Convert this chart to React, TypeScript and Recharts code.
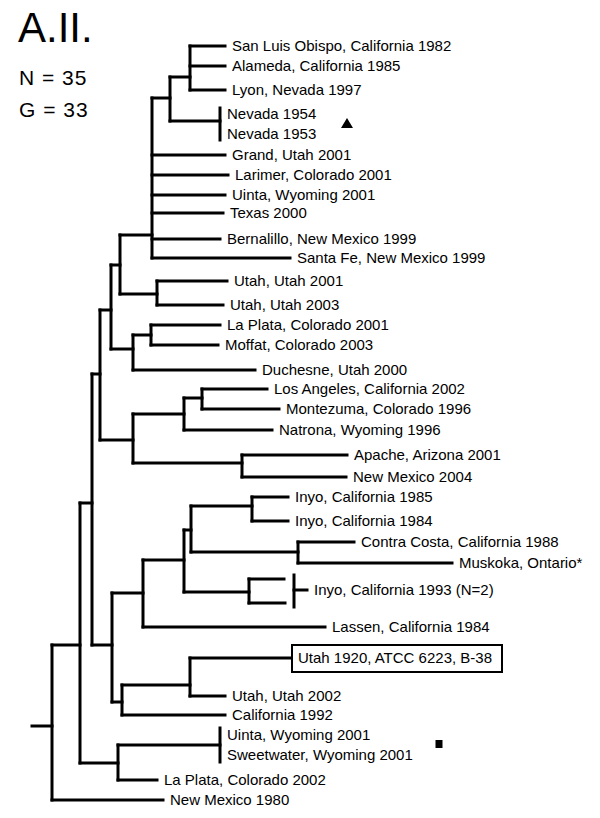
import React from 'react';
import { ScatterChart, Scatter, XAxis, YAxis, ReferenceLine } from 'recharts';

const W = 600;
const H = 818;

// ---- Tree: internal nodes (depth = genetic distance axis, y = row axis) ----
const nodeIds = ['root', 'n80', 'n92', 'n100', 'n111', 'n120', 'poly', 'n170', 'n190', 'nev', 'nUtah', 'n133a', 'n151', 'n133b', 'n184a', 'n202', 'n242', 'n112', 'n143', 'n184b', 'n191', 'n252', 'n298', 'n249', 'n122', 'n190b', 'n118', 'uw', 'i93'];
const nodeDepth = [52, 80, 92, 100, 111, 120, 152, 170, 190, 220, 157, 133, 151, 133, 184, 202, 242, 112, 143, 184, 191, 252, 298, 249, 122, 190, 118, 220, 294];
const nodeY = [726, 645, 503, 374, 310, 265, 235, 98, 77, 121, 294, 349, 335, 440, 414, 398, 463, 645, 593, 560, 530, 506, 552, 592, 702, 685, 763, 745, 590];
const nodeParent = ['', 'root', 'n80', 'n92', 'n100', 'n111', 'n120', 'poly', 'n170', 'n170', 'n120', 'n111', 'n133a', 'n100', 'n133b', 'n184a', 'n133b', 'n92', 'n112', 'n143', 'n184b', 'n191', 'n191', 'n184b', 'n112', 'n122', 'n80', 'n118', ''];
const rootStart = 32;

// collapsed groups drawn as a vertical bar
const barNodes = ['nev', 'uw', 'i93'];
const barSpans = [[108, 140], [728, 762], [575, 607]];

// ---- Leaves ----
const leafNames = [
  'San Luis Obispo, California 1982', 'Alameda, California 1985', 'Lyon, Nevada 1997',
  'Nevada 1954', 'Nevada 1953',
  'Grand, Utah 2001', 'Larimer, Colorado 2001', 'Uinta, Wyoming 2001', 'Texas 2000', 'Bernalillo, New Mexico 1999', 'Santa Fe, New Mexico 1999',
  'Utah, Utah 2001', 'Utah, Utah 2003',
  'La Plata, Colorado 2001', 'Moffat, Colorado 2003', 'Duchesne, Utah 2000',
  'Los Angeles, California 2002', 'Montezuma, Colorado 1996', 'Natrona, Wyoming 1996',
  'Apache, Arizona 2001', 'New Mexico 2004',
  'Inyo, California 1985', 'Inyo, California 1984', 'Contra Costa, California 1988', 'Muskoka, Ontario*',
  '', '', 'Inyo, California 1993 (N=2)',
  'Lassen, California 1984',
  'Utah 1920, ATCC 6223, B-38', 'Utah, Utah 2002', 'California 1992',
  'Uinta, Wyoming 2001', 'Sweetwater, Wyoming 2001', 'La Plata, Colorado 2002',
  'New Mexico 1980',
];
const leafDepth = [225, 225, 225, 220, 220, 225, 228, 225, 223, 220, 290, 227, 223, 220, 218, 255, 267, 279, 272, 347, 346, 288, 288, 354, 452, 284, 285, 307, 325, 292, 225, 225, 220, 220, 157, 163];
const leafY = [46, 66, 90, 114, 134, 155, 175, 195, 213, 239, 258, 281, 305, 325, 345, 370, 389, 409, 430, 455, 477, 497, 521, 542, 563, 579, 603, 590, 627, 658, 696, 715, 735, 755, 780, 800];
const leafParent = ['n190', 'n190', 'n190', 'nev', 'nev', 'poly', 'poly', 'poly', 'poly', 'poly', 'poly', 'nUtah', 'nUtah', 'n151', 'n151', 'n133a', 'n202', 'n202', 'n184a', 'n242', 'n242', 'n252', 'n252', 'n298', 'n298', 'n249', 'n249', 'i93', 'n143', 'n190b', 'n190b', 'n122', 'uw', 'uw', 'n118', 'root'];
const boxedLeaves = ['Utah 1920, ATCC 6223, B-38'];

// ---- Markers ----
const triangleMarks = [{ x: 347, y: 123 }];
const squareMarks = [{ x: 439, y: 744 }];

type Seg = { x1: number; y1: number; x2: number; y2: number };

function buildSegments(): Seg[] {
  const segs: Seg[] = [];
  const depthOf: Record<string, number> = {};
  nodeIds.forEach((id, i) => (depthOf[id] = nodeDepth[i]));
  const childYs: Record<string, number[]> = {};
  nodeIds.forEach((id) => (childYs[id] = []));
  nodeIds.forEach((id, i) => {
    const p = nodeParent[i];
    if (p) {
      childYs[p].push(nodeY[i]);
      segs.push({ x1: depthOf[p], y1: nodeY[i], x2: nodeDepth[i], y2: nodeY[i] });
    } else if (id === 'root') {
      segs.push({ x1: rootStart, y1: nodeY[i], x2: nodeDepth[i], y2: nodeY[i] });
    }
  });
  leafNames.forEach((_, i) => {
    const p = leafParent[i];
    childYs[p].push(leafY[i]);
    if (leafDepth[i] !== depthOf[p]) {
      segs.push({ x1: depthOf[p], y1: leafY[i], x2: leafDepth[i], y2: leafY[i] });
    }
  });
  nodeIds.forEach((id, i) => {
    const b = barNodes.indexOf(id);
    if (b >= 0) {
      segs.push({ x1: nodeDepth[i], y1: barSpans[b][0], x2: nodeDepth[i], y2: barSpans[b][1] });
    } else {
      const ys = childYs[id];
      segs.push({ x1: nodeDepth[i], y1: Math.min(...ys), x2: nodeDepth[i], y2: Math.max(...ys) });
    }
  });
  return segs;
}

const segments = buildSegments();
const leafData = leafNames.map((name, i) => ({ x: leafDepth[i], y: leafY[i], name }));

const FONT = "'Liberation Sans', Arial, sans-serif";

const LeafLabel = (props: any) => {
  const { cx, cy, payload } = props;
  if (!payload || !payload.name) return <g />;
  const boxed = boxedLeaves.includes(payload.name);
  return (
    <g>
      {boxed && (
        <rect x={cx} y={cy - 13} width={210} height={27} fill="#fff" stroke="#000" strokeWidth={2} />
      )}
      <text x={cx + (boxed ? 6 : 7)} y={cy} dy="0.35em" fontSize={15} fontFamily={FONT} fill="#000">
        {payload.name}
      </text>
    </g>
  );
};

const TriangleShape = (props: any) => {
  const { cx, cy } = props;
  return <polygon points={`${cx - 6},${cy + 5} ${cx + 6},${cy + 5} ${cx},${cy - 5}`} fill="#000" />;
};

const SquareShape = (props: any) => {
  const { cx, cy } = props;
  return <rect x={cx - 3.5} y={cy - 4} width={7} height={8} fill="#000" />;
};

export default function App() {
  return (
    <div style={{ position: 'absolute', left: 0, top: 0, width: W, height: H, background: '#fff' }}>
      <ScatterChart width={W} height={H} margin={{ top: 0, right: 0, bottom: 0, left: 0 }}>
        <XAxis type="number" dataKey="x" domain={[0, W]} hide allowDataOverflow />
        <YAxis type="number" dataKey="y" domain={[0, H]} reversed hide allowDataOverflow />
        {segments.map((s, i) => (
          <ReferenceLine
            key={i}
            segment={[{ x: s.x1, y: s.y1 }, { x: s.x2, y: s.y2 }]}
            stroke="#000"
            strokeWidth={3}
            strokeLinecap="square"
            ifOverflow="visible"
          />
        ))}
        <Scatter data={leafData} shape={LeafLabel} isAnimationActive={false} />
        <Scatter data={triangleMarks} shape={TriangleShape} isAnimationActive={false} />
        <Scatter data={squareMarks} shape={SquareShape} isAnimationActive={false} />
      </ScatterChart>
      <svg width={W} height={130} style={{ position: 'absolute', left: 0, top: 0, pointerEvents: 'none' }}>
        <text x={18} y={42} fontSize={42} fontFamily={FONT} fill="#000">A.II.</text>
        <text x={19} y={85} fontSize={21} fontFamily={FONT} fill="#000" letterSpacing={1}>N = 35</text>
        <text x={19} y={117} fontSize={21} fontFamily={FONT} fill="#000" letterSpacing={1}>G = 33</text>
      </svg>
    </div>
  );
}
